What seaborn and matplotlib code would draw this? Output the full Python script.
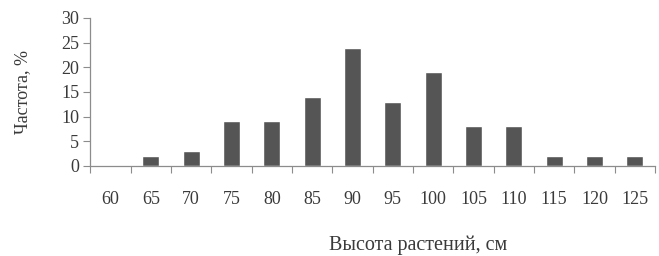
import numpy as np
import pandas as pd
import matplotlib
matplotlib.use("Agg")
import matplotlib.pyplot as plt
import seaborn as sns

heights = ["60", "65", "70", "75", "80", "85", "90", "95", "100", "105", "110", "115", "120", "125"]
freq = [0, 2, 3, 9, 9, 14, 24, 13, 19, 8, 8, 2, 2, 2]
yticks = [0, 5, 10, 15, 20, 25, 30]

sns.set_style("white")
plt.rcParams["font.family"] = ["Liberation Serif", "DejaVu Serif"]

BAR = "#555555"
AXIS = "#8c8c8c"
TXT = "#3a3a3a"
FS = 13

df = pd.DataFrame({"h": heights, "f": freq})

fig = plt.figure(figsize=(6.59, 2.56), dpi=100)
ax = fig.add_axes([0.137, 0.352, 0.857, 0.578])
sns.barplot(data=df, x="h", y="f", order=heights, color=BAR, width=0.42,
            saturation=1, ax=ax)

ax.set_xlim(-0.5, len(heights) - 0.5)
ax.set_ylim(0, 30)
ax.set_yticks(yticks)
ax.set_yticklabels([str(v) for v in yticks], fontsize=FS, color=TXT)
ax.set_xticks(range(len(heights)))
ax.set_xticklabels(heights, fontsize=FS, color=TXT)
ax.set_xticks(np.arange(len(heights) + 1) - 0.5, minor=True)
ax.tick_params(axis="x", which="major", length=0, pad=18, bottom=True)
ax.tick_params(axis="x", which="minor", length=5, color=AXIS, width=0.8,
               direction="out", bottom=True)
ax.tick_params(axis="y", length=5, color=AXIS, width=0.8, direction="out", pad=3,
               left=True)

for s in ["top", "right"]:
    ax.spines[s].set_visible(False)
for s in ["left", "bottom"]:
    ax.spines[s].set_color(AXIS)
    ax.spines[s].set_linewidth(0.9)

ax.set_xlabel("Высота растений, см", fontsize=14.5, color=TXT)
ax.xaxis.set_label_coords(0.58, -0.47)
ax.set_ylabel("Частота, %", fontsize=FS, color=TXT)
ax.yaxis.set_label_coords(-0.105, 0.5)

fig.savefig("out.png", dpi=100)
